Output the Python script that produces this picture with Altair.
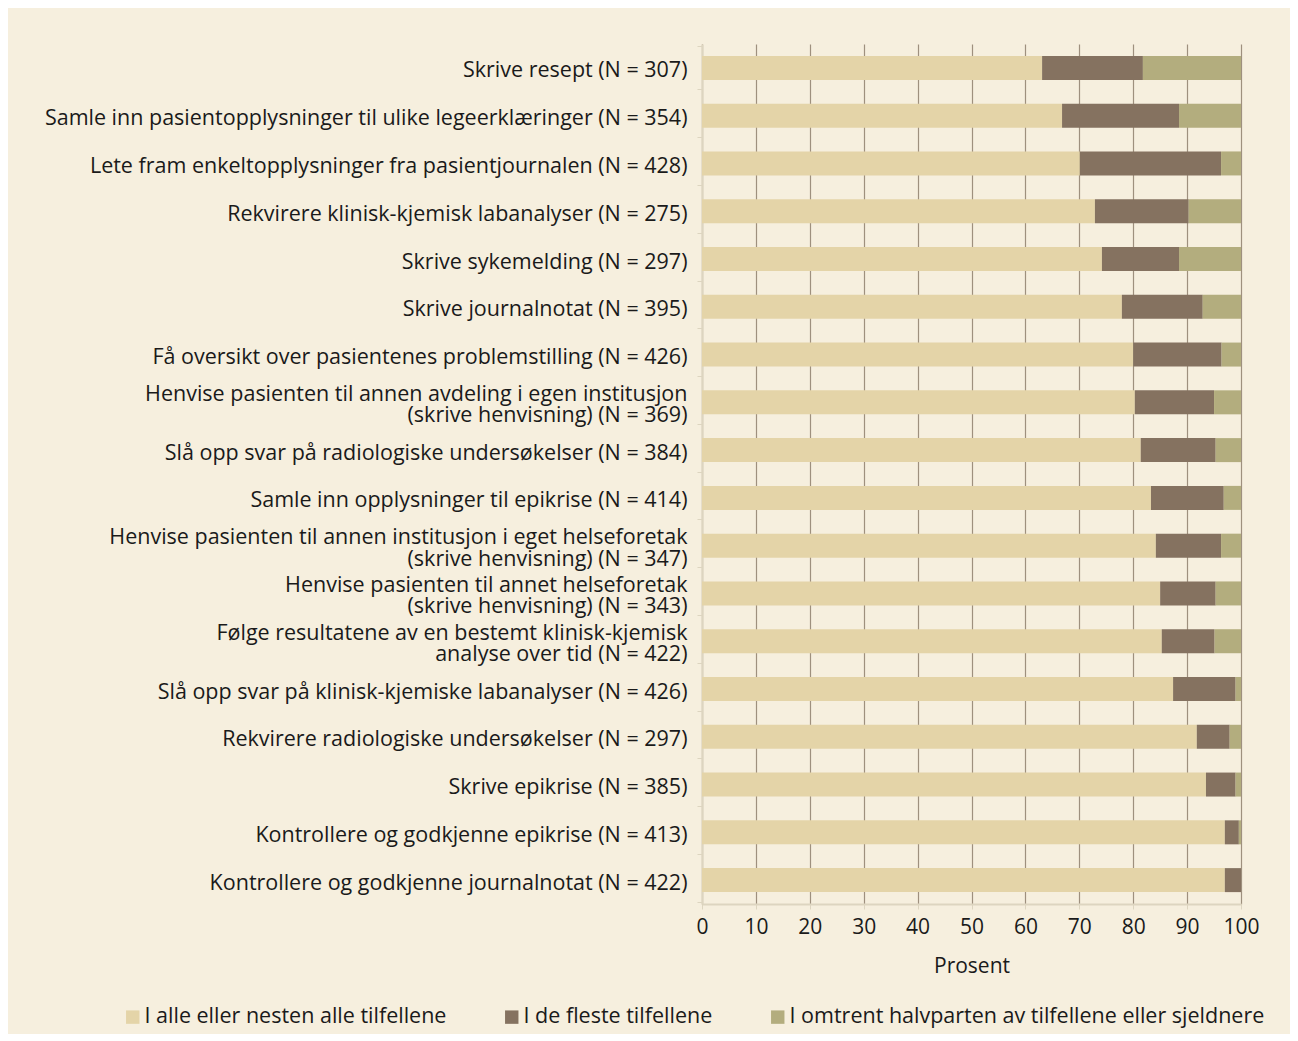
import altair as alt
import pandas as pd

categories = [
    "Skrive resept (N = 307)",
    "Samle inn pasientopplysninger til ulike legeerklæringer (N = 354)",
    "Lete fram enkeltopplysninger fra pasientjournalen (N = 428)",
    "Rekvirere klinisk-kjemisk labanalyser (N = 275)",
    "Skrive sykemelding (N = 297)",
    "Skrive journalnotat (N = 395)",
    "Få oversikt over pasientenes problemstilling (N = 426)",
    "Henvise pasienten til annen avdeling i egen institusjon |(skrive henvisning) (N = 369)",
    "Slå opp svar på radiologiske undersøkelser (N = 384)",
    "Samle inn opplysninger til epikrise (N = 414)",
    "Henvise pasienten til annen institusjon i eget helseforetak |(skrive henvisning) (N = 347)",
    "Henvise pasienten til annet helseforetak |(skrive henvisning) (N = 343)",
    "Følge resultatene av en bestemt klinisk-kjemisk |analyse over tid (N = 422)",
    "Slå opp svar på klinisk-kjemiske labanalyser (N = 426)",
    "Rekvirere radiologiske undersøkelser (N = 297)",
    "Skrive epikrise (N = 385)",
    "Kontrollere og godkjenne epikrise (N = 413)",
    "Kontrollere og godkjenne journalnotat (N = 422)",
]

series = [
    "I alle eller nesten alle tilfellene",
    "I de fleste tilfellene",
    "I omtrent halvparten av tilfellene eller sjeldnere",
]

alle = [63.1, 66.8, 70.1, 72.9, 74.2, 77.9, 80.0, 80.3, 81.4, 83.3, 84.2, 85.0, 85.3, 87.4, 91.8, 93.5, 97.0, 97.0]
fleste = [18.7, 21.7, 26.2, 17.4, 14.3, 15.0, 16.4, 14.7, 13.9, 13.5, 12.1, 10.3, 9.8, 11.6, 6.1, 5.5, 2.6, 3.0]
halvparten = [18.2, 11.5, 3.7, 9.7, 11.5, 7.1, 3.6, 5.0, 4.7, 3.2, 3.7, 4.7, 4.9, 1.0, 2.1, 1.0, 0.4, 0.0]

colors = ["#E4D4A8", "#857260", "#B3AD7E"]

rows = []
for i, c in enumerate(categories):
    for k, vals in enumerate([alle, fleste, halvparten]):
        rows.append({"task": c, "series": series[k], "order": k, "value": vals[i]})
df = pd.DataFrame(rows)

FONT = "Open Sans"
TEXT = "#1a1a1a"

chart = (
    alt.Chart(df)
    .mark_bar(size=24)
    .encode(
        y=alt.Y(
            "task:N",
            sort=categories,
            title=None,
            axis=alt.Axis(
                labelExpr="split(datum.label, '|')",
                labelFont=FONT,
                labelFontSize=21.5,
                labelColor=TEXT,
                labelLineHeight=21.5,
                labelPadding=10,
                labelLimit=700,
                labelOffset={"condition": {"test": "indexof(datum.label, '|') >= 0", "value": -8}, "value": 3},
                tickBand="extent",
                tickSize=5,
                tickColor="#DDD5C0",
                domainColor="#DDD5C0",
                domainWidth=2,
                grid=False,
            ),
        ),
        x=alt.X(
            "value:Q",
            stack="zero",
            scale=alt.Scale(domain=[0, 100], nice=False),
            axis=alt.Axis(
                values=[0, 10, 20, 30, 40, 50, 60, 70, 80, 90, 100],
                title="Prosent",
                titleFont=FONT,
                titleFontSize=21,
                titleFontWeight="normal",
                titleColor=TEXT,
                titlePadding=18,
                labelFont=FONT,
                labelFontSize=21,
                labelColor=TEXT,
                labelPadding=7,
                labelFlush=False,
                tickSize=5,
                tickColor="#DDD5C0",
                domainColor="#DDD5C0",
                domainWidth=2,
                grid=True,
                gridColor="#9E907E",
                gridWidth=1.2,
            ),
        ),
        color=alt.Color(
            "series:N",
            sort=series,
            scale=alt.Scale(domain=series, range=colors),
            legend=alt.Legend(
                title=None,
                orient="none",
                direction="horizontal",
                legendX=-580,
                legendY=962,
                symbolType="square",
                symbolSize=180,
                symbolStrokeWidth=0,
                labelFont=FONT,
                labelFontSize=21.5,
                labelColor=TEXT,
                labelOffset=1,
                columnPadding=54,
                labelLimit=700,
            ),
        ),
        order=alt.Order("order:Q"),
    )
    .properties(
        width=539,
        height=860,
        background="#F6EFDE",
        padding={"left": 694, "top": 36, "right": 49, "bottom": 130},
        autosize=alt.AutoSizeParams(type="none"),
    )
    .configure_view(stroke=None)
)

chart.save("out.html", embed_options={"renderer": "svg", "actions": False})
